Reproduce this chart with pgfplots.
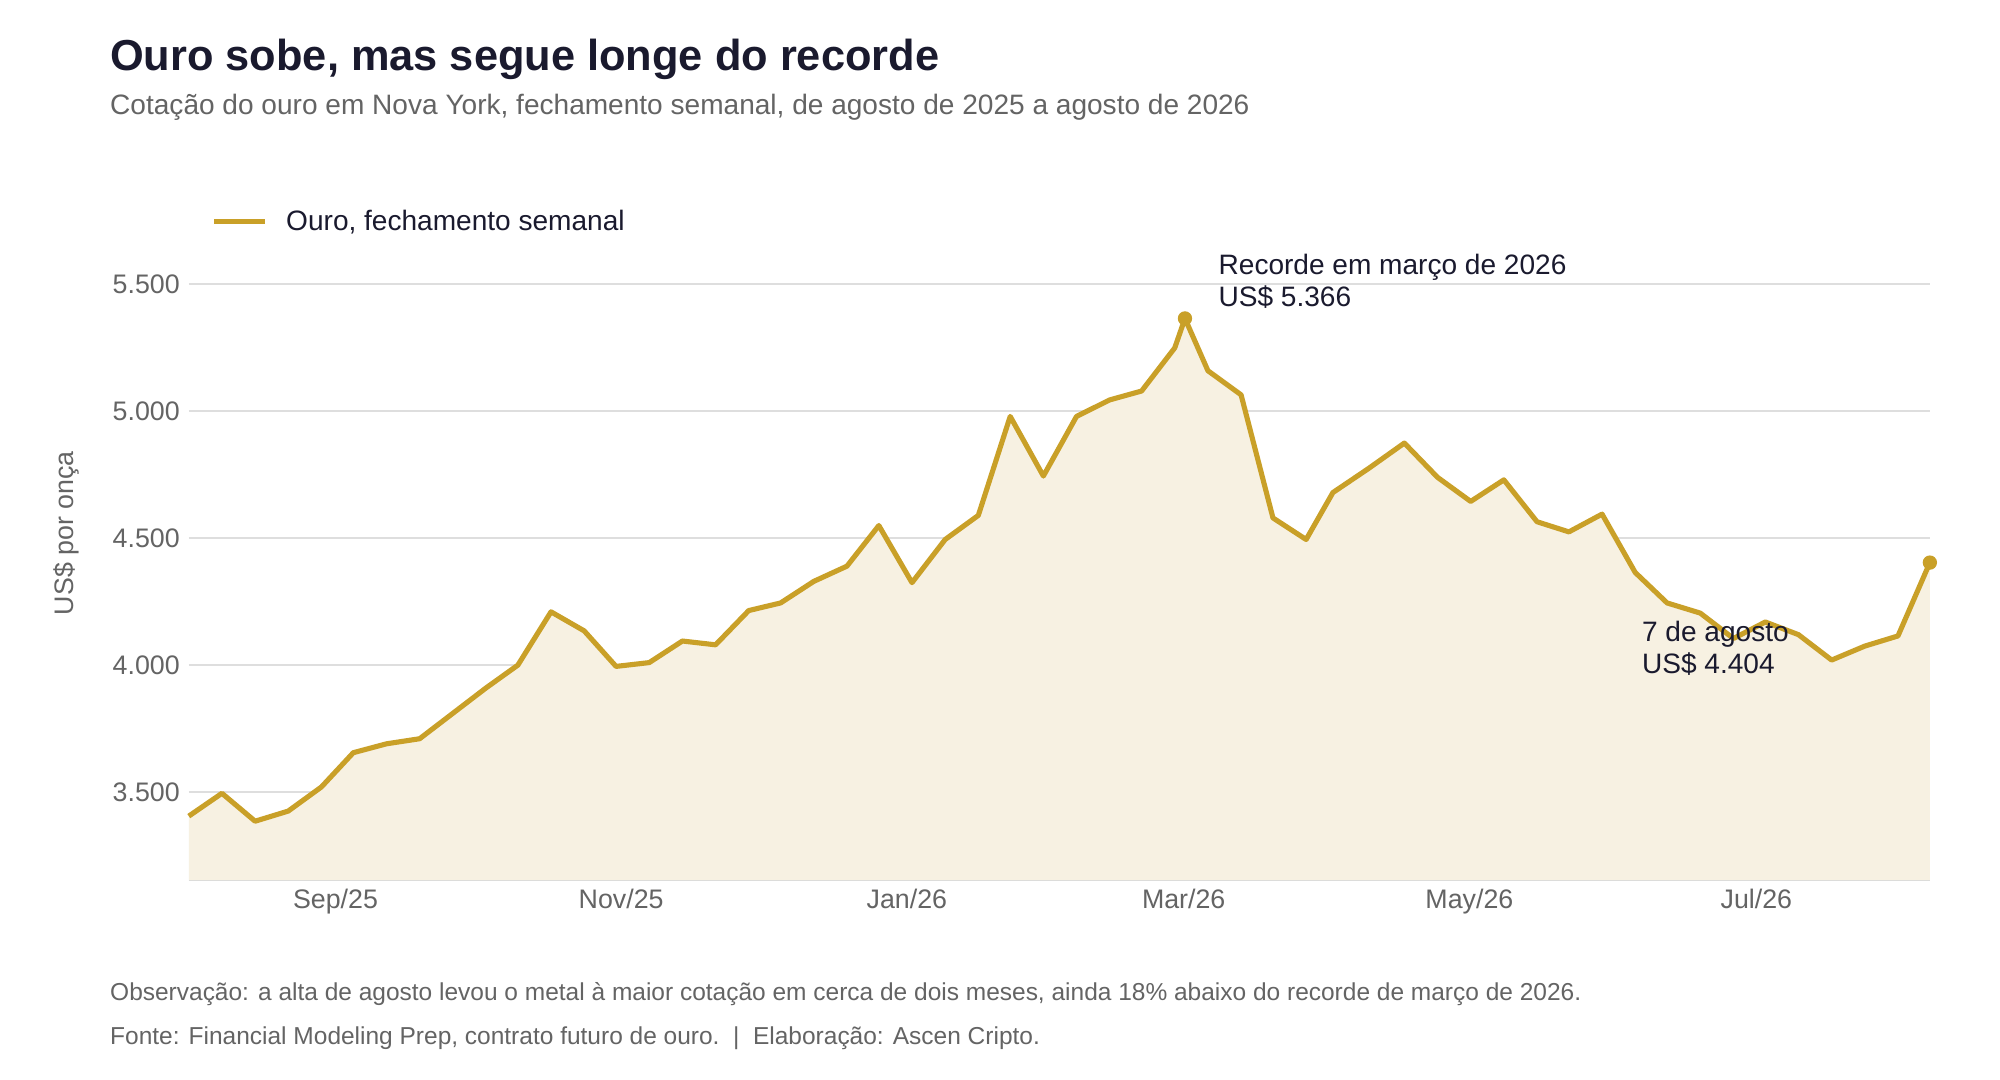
\documentclass[border=0pt]{standalone}
\usepackage{pgfplots}
\pgfplotsset{compat=1.18}
\usepackage{fontspec}
\setmainfont{Liberation Sans}
\definecolor{gold}{RGB}{201,160,40}
\definecolor{cream}{RGB}{247,241,226}
\definecolor{titlec}{RGB}{26,26,46}
\definecolor{greyt}{RGB}{100,100,100}
\begin{document}
\begin{tikzpicture}[x=1pt,y=1pt]
\fill[white] (0,-6.3) rectangle (784,417);
\node[anchor=base west,font=\fontsize{17}{20}\selectfont\bfseries,text=titlec,inner sep=0] at (43,389.5) {Ouro sobe, mas segue longe do recorde};
\node[anchor=base west,font=\fontsize{11}{13}\selectfont,text=greyt,inner sep=0] at (43,372) {Cotação do ouro em Nova York, fechamento semanal, de agosto de 2025 a agosto de 2026};
\draw[gold,line width=2pt] (84,330) -- (104,330);
\node[anchor=west,font=\fontsize{11}{13}\selectfont,text=titlec,inner sep=0] at (112,330) {Ouro, fechamento semanal};
\node[anchor=base west,font=\fontsize{9.6}{11}\selectfont,text=greyt,inner sep=0] at (43,25) {Observação: a alta de agosto levou o metal à maior cotação em cerca de dois meses, ainda 18\% abaixo do recorde de março de 2026.};
\node[anchor=base west,font=\fontsize{9.6}{11}\selectfont,text=greyt,inner sep=0] at (43,7.5) {Fonte: Financial Modeling Prep, contrato futuro de ouro.\ \ |\ \ Elaboração: Ascen Cripto.};
\begin{axis}[at={(74pt,72pt)},anchor=south west,scale only axis,width=682.5pt,height=233.5pt,
 xmin=148,xmax=1513,ymin=3153,ymax=5500,clip=false,
 axis x line*=bottom,axis y line*=left,
 x axis line style={draw=black!15},
 y axis line style={draw=none},
 xtick={263,487,711,928,1152,1377},
 xticklabels={Sep/25,Nov/25,Jan/26,Mar/26,May/26,Jul/26},
 xtick style={draw=none},
 ytick={3500,4000,4500,5000,5500},
 ymajorgrids,grid style={black!13,line width=0.8pt},
 ytick style={draw=none},
 yticklabel style={/pgf/number format/1000 sep={.},/pgf/number format/assume math mode=true,text=greyt,font=\fontsize{10.5}{12}\selectfont},
 xticklabel style={text=greyt,font=\fontsize{10.5}{12}\selectfont},
]
\addplot[draw=none,fill=cream] coordinates {(148,3153)(148,3405)(174,3495)(200,3385)(226,3425)(252,3520)(277,3655)(303,3690)(329,3710)(355,3810)(381,3910)(406,4000)(432,4210)(458,4135)(483,3995)(509,4010)(535,4095)(561,4080)(587,4215)(612,4245)(638,4330)(664,4390)(689,4550)(715,4325)(741,4495)(767,4590)(792,4980)(818,4745)(844,4980)(870,5045)(895,5080)(921,5250)(929,5366)(947,5160)(973,5065)(998,4580)(1024,4495)(1045,4680)(1073,4775)(1101,4875)(1127,4740)(1153,4645)(1179,4730)(1205,4565)(1230,4525)(1256,4595)(1282,4365)(1307,4245)(1333,4205)(1359,4105)(1384,4170)(1410,4120)(1436,4020)(1462,4075)(1488,4115)(1513,4404)(1513,3153)} \closedcycle;
\addplot[gold,line width=2pt,line join=round] coordinates {(148,3405)(174,3495)(200,3385)(226,3425)(252,3520)(277,3655)(303,3690)(329,3710)(355,3810)(381,3910)(406,4000)(432,4210)(458,4135)(483,3995)(509,4010)(535,4095)(561,4080)(587,4215)(612,4245)(638,4330)(664,4390)(689,4550)(715,4325)(741,4495)(767,4590)(792,4980)(818,4745)(844,4980)(870,5045)(895,5080)(921,5250)(929,5366)(947,5160)(973,5065)(998,4580)(1024,4495)(1045,4680)(1073,4775)(1101,4875)(1127,4740)(1153,4645)(1179,4730)(1205,4565)(1230,4525)(1256,4595)(1282,4365)(1307,4245)(1333,4205)(1359,4105)(1384,4170)(1410,4120)(1436,4020)(1462,4075)(1488,4115)(1513,4404)};
\addplot[only marks,mark=*,mark size=2.6pt,gold] coordinates {(929,5366)(1513,4404)};
\node[anchor=north west,align=left,font=\fontsize{11}{12.5}\selectfont,text=titlec,inner sep=0] at (axis cs:955,5620) {Recorde em março de 2026\\US\$ 5.366};
\node[anchor=north west,align=left,font=\fontsize{11}{12.5}\selectfont,text=titlec,inner sep=0] at (axis cs:1287,4175) {7 de agosto\\US\$ 4.404};
\end{axis}
\node[rotate=90,font=\fontsize{10.5}{12}\selectfont,text=greyt] at (26,208) {US\$ por onça};
\end{tikzpicture}
\end{document}
